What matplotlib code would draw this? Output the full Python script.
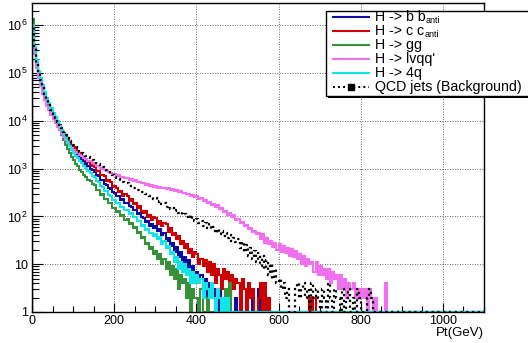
import numpy as np
import matplotlib
matplotlib.use("Agg")
import matplotlib.pyplot as plt
from matplotlib.lines import Line2D
from matplotlib.patches import Rectangle
from matplotlib.ticker import FixedLocator, MultipleLocator, FuncFormatter, NullFormatter

plt.rcParams['font.family'] = ['Liberation Sans', 'DejaVu Sans']
plt.rcParams['mathtext.fontset'] = 'custom'
plt.rcParams['mathtext.rm'] = 'Liberation Sans'
plt.rcParams['mathtext.it'] = 'Liberation Sans:italic'

# Jet Pt spectra, 5 GeV bins starting at 0 GeV
BIN_WIDTH = 5.0
PT_MAX = 1100.0

h_bb = [
    1010000, 312000, 160000, 99500, 69000, 47800, 35600, 26700, 20800, 16500,
    13300, 11100, 9120, 7800, 6310, 5370, 4470, 3890, 3310, 2880,
    2500, 2260, 1930, 1760, 1540, 1420, 1240, 1130, 1000, 935,
    860, 720, 700, 585, 570, 470, 465, 395, 380, 318,
    315, 268, 265, 222, 226, 190, 190, 162, 160, 136,
    138, 112, 116, 96, 93, 78, 80, 64, 68, 58,
    64, 50, 54, 40, 44, 31, 36, 24, 28, 18,
    23, 14, 18, 10, 14, 8, 12, 6, 9, 5,
    7, 5, 6, 3, 5, 2, 4, 4, 2, 3,
    0, 3, 2, 0, 2, 0, 3, 0, 0, 2,
    0, 2, 0, 0, 3, 0, 0, 2, 0, 0, 3, 0,
]

h_cc = [
    980000, 318000, 157000, 101000, 68500, 48300, 35200, 27100, 20700, 16800,
    13400, 11300, 9250, 8010, 6560, 5680, 4740, 4210, 3590, 3190,
    2830, 2600, 2290, 2110, 1860, 1720, 1510, 1400, 1230, 1140,
    1060, 905, 880, 745, 735, 690, 560, 565, 520, 420,
    430, 395, 325, 338, 270, 290, 262, 208, 230, 178,
    190, 150, 165, 128, 120, 132, 98, 108, 86, 95,
    92, 70, 80, 62, 74, 68, 48, 58, 40, 46,
    33, 38, 26, 31, 22, 26, 17, 21, 14, 18,
    16, 10, 13, 9, 12, 7, 11, 6, 10, 4,
    8, 6, 3, 8, 5, 7, 2, 6, 3, 5,
    4, 0, 5, 3, 0, 4, 2, 3, 0, 0,
    2, 4, 0, 4, 0, 2, 0, 0, 0, 0,
    0, 0, 0, 0, 0, 0, 0, 0, 0, 0,
    0, 0, 0, 0, 0, 2, 0, 2, 0, 0,
]

h_gg = [
    1320000, 316000, 158000, 100000, 67600, 46800, 34700, 26300, 20400, 15800,
    12600, 10000, 7940, 6310, 5010, 3980, 3160, 2630, 2140, 1780,
    1490, 1240, 1110, 940, 860, 745, 680, 590, 545, 468,
    445, 362, 352, 285, 290, 232, 230, 188, 188, 148,
    152, 124, 128, 102, 106, 84, 88, 70, 73, 57,
    60, 45, 47, 36, 37, 27, 28, 21, 23, 16,
    19, 13, 16, 10, 13, 8, 11, 6, 9, 5,
    8, 3, 6, 4, 5, 2, 4, 0, 3, 2,
    2, 0, 3, 0, 0, 2, 0, 0, 0, 0,
    0, 0, 0, 0, 3, 2, 4, 0, 0, 0,
]

h_lvqq = [
    708000, 251000, 126000, 79400, 52500, 37200, 27500, 20900, 16600, 13200,
    10700, 8910, 7590, 6310, 5370, 4570, 3980, 3470, 3020, 2690,
    2460, 2240, 2100, 1890, 1820, 1680, 1600, 1460, 1410, 1300,
    1260, 1160, 1120, 1030, 1000, 930, 910, 840, 820, 765,
    770, 710, 722, 670, 680, 630, 640, 590, 605, 560,
    570, 522, 535, 492, 502, 462, 472, 434, 448, 420,
    432, 400, 418, 385, 398, 370, 386, 355, 368, 340,
    352, 320, 336, 305, 316, 288, 296, 270, 278, 254,
    266, 232, 242, 212, 220, 194, 202, 176, 186, 160,
    172, 142, 148, 124, 132, 108, 118, 98, 106, 86,
    88, 74, 76, 64, 66, 54, 58, 47, 50, 42,
    44, 34, 42, 28, 36, 27, 31, 23, 28, 20,
    26, 18, 24, 17, 22, 15, 21, 14, 19, 13,
    16, 10, 15, 9, 13, 10, 11, 7, 11, 6,
    9, 6, 8, 5, 8, 4, 7, 5, 6, 3,
    6, 3, 5, 2, 4, 3, 4, 2, 3, 2,
    3, 2, 3, 0, 3, 2, 0, 2, 0, 0,
    0, 0, 4,
]

h_4q = [
    990000, 355000, 186000, 112000, 79400, 56200, 39800, 30200, 23400, 18600,
    14800, 12000, 10000, 7940, 6310, 5250, 4270, 3550, 2950, 2510,
    2150, 1840, 1640, 1430, 1300, 1130, 1030, 895, 825, 705,
    670, 550, 530, 440, 420, 345, 336, 275, 266, 222,
    222, 190, 190, 158, 160, 134, 138, 112, 117, 96,
    97, 80, 80, 64, 65, 52, 54, 44, 46, 39,
    42, 34, 37, 27, 30, 22, 24, 16, 18, 11,
    14, 8, 11, 7, 10, 6, 8, 4, 7, 4,
    6, 4, 5, 2, 4, 3, 2, 4, 2, 0,
    3, 2, 0, 2, 0, 2, 0, 0, 0, 0,
]

h_qcd = [
    1000000, 331000, 166000, 102000, 70800, 49000, 36300, 27500, 21400, 17000,
    13800, 11500, 9550, 8130, 6920, 5890, 5010, 4370, 3800, 3390,
    3100, 2770, 2530, 2280, 2150, 1990, 1870, 1730, 1630, 1500,
    1420, 1310, 1240, 1140, 1080, 990, 930, 845, 790, 718,
    660, 600, 600, 540, 535, 490, 490, 440, 436, 398,
    398, 362, 358, 322, 325, 292, 292, 262, 262, 236,
    240, 205, 212, 180, 188, 160, 166, 142, 152, 130,
    138, 118, 126, 108, 115, 98, 105, 88, 95, 82,
    90, 72, 82, 64, 74, 58, 68, 54, 60, 46,
    55, 43, 49, 38, 45, 35, 41, 31, 36, 29,
    34, 22, 29, 18, 25, 15, 22, 13, 19, 11,
    17, 9, 15, 8, 12, 6, 10, 5, 8, 4,
    5, 3, 4, 2, 3, 0, 0, 0, 3, 4,
    2, 3, 4, 2, 3, 0, 4, 2, 3, 2,
    0, 3, 2, 0, 4, 2, 0, 3, 2, 2,
    0, 3, 0, 2, 3, 0, 2, 0, 3, 2,
    0, 0, 0, 2, 3, 2, 0, 0, 0, 0,
]

# legend text: (main text, subscript)
labels = [('H -> b b', 'anti'), ('H -> c c', 'anti'), ('H -> gg', ''),
          ("H -> lvqq'", ''), ('H -> 4q', ''), ('QCD jets (Background)', '')]
colors = ['#0c0ca0', '#cc0000', '#3a8f3a', '#f070f0', '#10e6e6', '#000000']
series = [h_bb, h_cc, h_gg, h_lvqq, h_4q, h_qcd]

YMIN, YMAX = 1.0, 2.85e6
W, H = 528.0, 343.0

n_bins = int(round(PT_MAX / BIN_WIDTH))
edges = np.arange(n_bins + 1) * BIN_WIDTH


def filled(counts):
    arr = np.zeros(n_bins)
    arr[:len(counts)] = counts
    # empty bins sit on the frame floor of the log axis
    return np.where(arr > 0, arr, YMIN)


fig = plt.figure(figsize=(W / 100, H / 100), dpi=100)
ax = fig.add_axes([32 / W, 31 / H, 452 / W, 308.5 / H])

for i, (vals, col) in enumerate(zip(series, colors)):
    if i == 5:
        ax.stairs(filled(vals), edges, color=col, lw=1.6,
                  linestyle=(0, (1, 1.6)), zorder=2.2)
    else:
        ax.stairs(filled(vals), edges, color=col, lw=1.5, zorder=2)

ax.set_yscale('log')
ax.set_xlim(0, PT_MAX)
ax.set_ylim(YMIN, YMAX)

ax.xaxis.set_major_locator(FixedLocator([0, 200, 400, 600, 800, 1000]))
ax.xaxis.set_minor_locator(MultipleLocator(50))
ax.yaxis.set_major_locator(FixedLocator([10.0 ** k for k in range(7)]))
ax.yaxis.set_minor_locator(FixedLocator([m * 10.0 ** k for k in range(7) for m in range(2, 10)]))
ax.yaxis.set_minor_formatter(NullFormatter())


def ylab(v, pos):
    k = int(round(np.log10(v)))
    if k == 0:
        return '1'
    if k == 1:
        return '10'
    return r'$\mathregular{10^{%d}}$' % k


ax.yaxis.set_major_formatter(FuncFormatter(ylab))
ax.tick_params(axis='both', which='both', direction='in', width=0.8,
               labelsize=9, colors='black')
ax.tick_params(axis='y', which='major', length=8, pad=3)
ax.tick_params(axis='y', which='minor', length=5)
ax.tick_params(axis='x', which='major', length=6.5, pad=2)
ax.tick_params(axis='x', which='minor', length=4)

ax.grid(True, which='major', color='#333333', linestyle=(0, (1, 2)), lw=0.6)
for sp in ax.spines.values():
    sp.set_linewidth(1.0)
    sp.set_color('black')

fig.text(484 / W, 1 - 333 / H, 'Pt(GeV)', ha='right', va='center', fontsize=9.5)


def fx(x):
    return x / W


def fy(y):
    return 1 - y / H


# legend box with a drop shadow
box_l, box_t, box_r, box_b = 325.5, 11.5, 531.0, 96.5
fig.add_artist(Rectangle((fx(box_l + 2), fy(box_b + 2)), fx(box_r - box_l), (box_b - box_t) / H,
                         transform=fig.transFigure, facecolor='black', edgecolor='none', zorder=9))
fig.add_artist(Rectangle((fx(box_l), fy(box_b)), fx(box_r - box_l), (box_b - box_t) / H,
                         transform=fig.transFigure, facecolor='white', edgecolor='black',
                         lw=1.0, zorder=10))

renderer = fig.canvas.get_renderer()
rows = [17.0, 31.0, 45.0, 59.0, 73.0, 87.5]
for (lab, sub), col, yy in zip(labels, colors, rows):
    if col == '#000000':
        fig.add_artist(Line2D([fx(333), fx(369)], [fy(yy), fy(yy)], transform=fig.transFigure,
                              color=col, lw=1.4, linestyle=(0, (1, 1.6)), zorder=11))
        fig.add_artist(Line2D([fx(351)], [fy(yy)], transform=fig.transFigure, color=col,
                              marker='s', markersize=4.5, lw=0, zorder=12))
    else:
        fig.add_artist(Line2D([fx(333), fx(369)], [fy(yy), fy(yy)], transform=fig.transFigure,
                              color=col, lw=1.5, zorder=11))
    t = fig.text(fx(375), fy(yy), lab, ha='left', va='center', fontsize=10.2, zorder=12)
    if sub:
        ext = t.get_window_extent(renderer=renderer)
        fig.text(fx(ext.x1 + 0.5), fy(yy + 3.5), sub, ha='left', va='center',
                 fontsize=6.5, zorder=12)

fig.savefig('out.png', dpi=100)
